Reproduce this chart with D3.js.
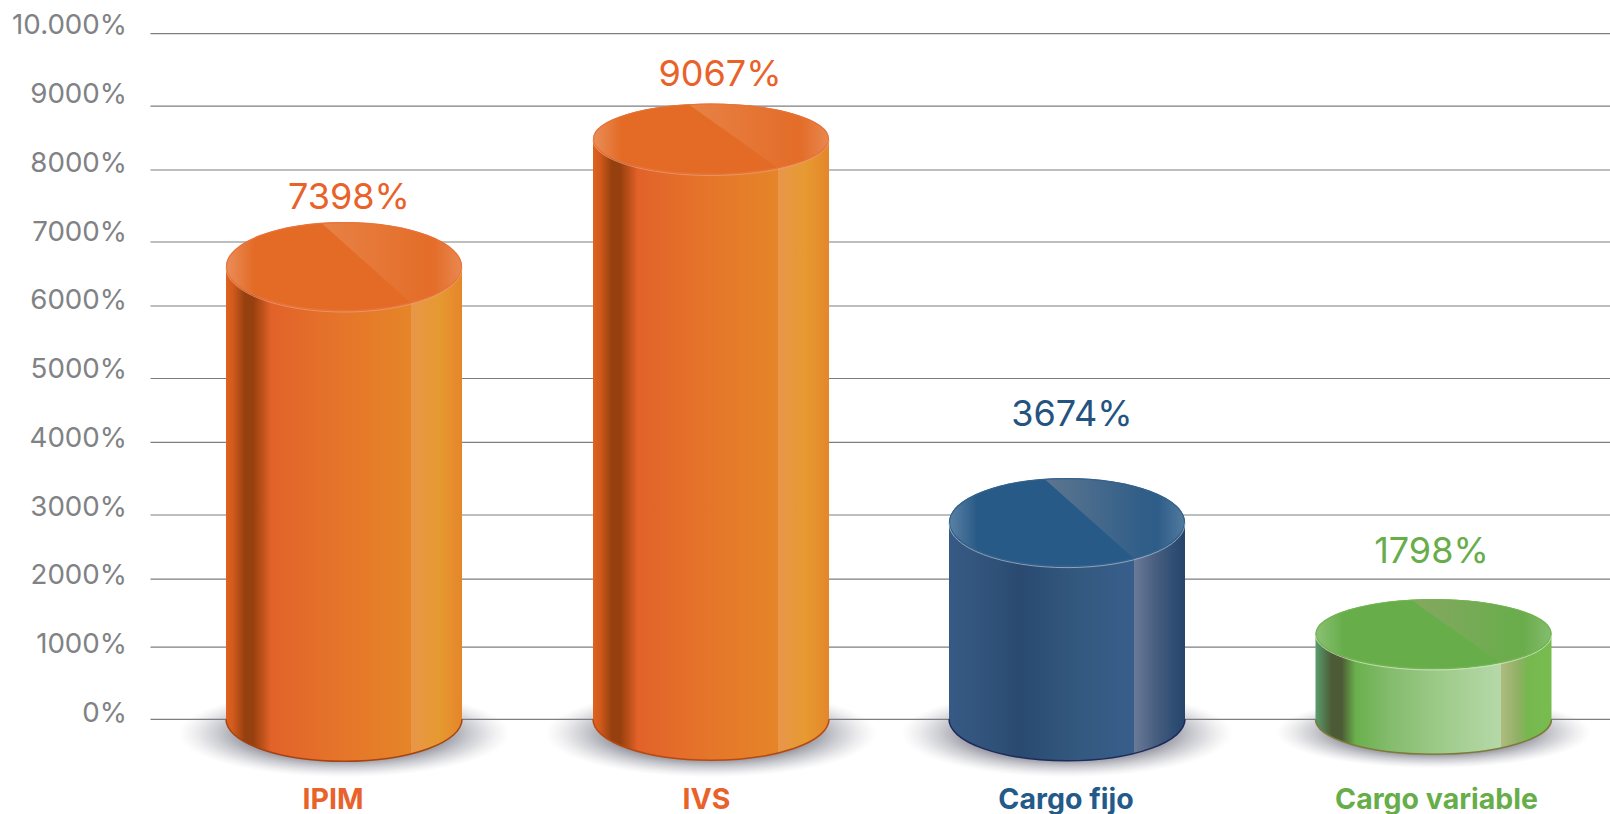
<!DOCTYPE html>
<html>
<head>
<meta charset="utf-8">
<title>Cilindros</title>
<script src="https://cdn.jsdelivr.net/npm/d3@7/dist/d3.min.js"></script>
<style>
  html, body { margin: 0; padding: 0; background: #fff; }
  svg { display: block; }
  text { font-family: Inter, "Noto Sans", sans-serif; }
  .domain, .tick line { display: none; }
</style>
</head>
<body>
<div id="chart"></div>
<script>
// data
const categories = ["IPIM", "IVS", "Cargo fijo", "Cargo variable"];
const valueLabels = [7398, 9067, 3674, 1798];
// the cylinders are not drawn to their labels: height as read on the axis
const drawnHeights = [6604, 8464, 2873, 1244];
const tickLabels = ["0%", "1000%", "2000%", "3000%", "4000%", "5000%", "6000%", "7000%", "8000%", "9000%", "10.000%"];
// gridlines are slightly irregular in the original artwork
const gridLevels = [0, 1054, 2046, 2980, 4040, 4971, 6028, 6962, 8012, 8945, 10000];

const width = 1610;
const height = 814;

// layout, one entry per category
const barCenters = [344, 711, 1067, 1433.5];
const labelCenters = [333, 706.5, 1066, 1436.5];
const valueCenters = [349, 720, 1072, 1431.5];
const valueBaselines = [209, 86, 426, 563];
const topRy = [44.5, 35.5, 44.3, 35];
const bottomRy = [42, 41, 41.5, 35];
const rx = 118;

const orangeSide = [[0, "#e0621f"], [.03, "#d05a1c"], [.08, "#96400f"], [.115, "#96400f"], [.15, "#b94f18"], [.19, "#e2622a"], [.5, "#e5762a"], [.785, "#e58528"],
  [.785, "#e8964a"], [.9, "#e69a30"], [1, "#e5862a"]];

const palettes = [
  { id: "orange", top: "#e36b26", text: "#e8622a", rim: "#ee9a70", edge: "#e8733a", base: "#a8420f", shine: "#f2b48c", shineOp: .32, side: orangeSide },
  { id: "orange2", top: "#e36b26", text: "#e8622a", rim: "#ee9a70", edge: "#e8733a", base: "#b8480f", shine: "#f2b48c", shineOp: .32, side: orangeSide },
  { id: "blue", top: "#285a87", text: "#24537f", rim: "#a3b8cc", edge: "#34628c", base: "#1f2a5c", shine: "#a89c9c", shineOp: .42,
    side: [[0, "#365a85"], [.12, "#33557d"], [.3, "#2a4a70"], [.55, "#33597f"], [.785, "#385f8c"],
           [.785, "#6a7a97"], [.87, "#4a6080"], [.95, "#2f4e74"], [1, "#26446a"]] },
  { id: "green", top: "#67ad4a", text: "#67ad4a", rim: "#cfe6c0", edge: "#72b552", base: "#7f7a3a", shine: "#b0a080", shineOp: .42,
    side: [[0, "#5a9c6c"], [.07, "#4c5a35"], [.11, "#4c5a35"], [.17, "#6ab04c"], [.32, "#85bc6e"], [.6, "#a5cf92"], [.785, "#b5d8a8"],
           [.785, "#b0bc80"], [.86, "#8fb064"], [.9, "#76b84e"], [1, "#78bc50"]] }
];

const y = d3.scaleLinear().domain([0, 10000]).range([719.3, 33.7]);
const tickY = d3.scalePoint().domain(tickLabels).range([712.6, 24.8]);
const x = d3.scaleOrdinal().domain(categories).range(barCenters);
const xLabel = d3.scaleOrdinal().domain(categories).range(labelCenters);
const xValue = d3.scaleOrdinal().domain(categories).range(valueCenters);

const rows = categories.map((name, i) => ({
  name, i,
  value: valueLabels[i],
  drawn: drawnHeights[i],
  ryTop: topRy[i],
  ryBottom: bottomRy[i],
  pal: palettes[i]
}));

const svg = d3.select("#chart").append("svg")
  .attr("width", width)
  .attr("height", height)
  .attr("viewBox", `0 0 ${width} ${height}`);

const defs = svg.append("defs");

const shadow = defs.append("radialGradient").attr("id", "shadow");
shadow.append("stop").attr("offset", "62%").attr("stop-color", "#9a9ba4").attr("stop-opacity", 1);
shadow.append("stop").attr("offset", "82%").attr("stop-color", "#bcbdc4").attr("stop-opacity", .55);
shadow.append("stop").attr("offset", "100%").attr("stop-color", "#d8d8dc").attr("stop-opacity", 0);

palettes.forEach((p) => {
  const g = defs.append("linearGradient").attr("id", `side-${p.id}`);
  p.side.forEach((s) => g.append("stop").attr("offset", s[0]).attr("stop-color", s[1]));

  // soft lighter ends of the lid
  const lid = defs.append("linearGradient").attr("id", `lid-${p.id}`);
  [[0, .24], [.12, 0], [.88, 0], [1, .2]].forEach((s) => {
    lid.append("stop").attr("offset", s[0]).attr("stop-color", "#fff").attr("stop-opacity", s[1]);
  });

  const shine = defs.append("linearGradient").attr("id", `shine-${p.id}`);
  shine.append("stop").attr("offset", "0%").attr("stop-color", p.shine).attr("stop-opacity", p.shineOp);
  shine.append("stop").attr("offset", "70%").attr("stop-color", p.shine).attr("stop-opacity", p.shineOp * .15);
  shine.append("stop").attr("offset", "100%").attr("stop-color", p.shine).attr("stop-opacity", 0);
});

// floor shadows go under the gridlines
svg.append("g").selectAll("ellipse")
  .data(rows)
  .join("ellipse")
  .attr("cx", (d) => x(d.name))
  .attr("cy", (d) => y(0) + (d.ryBottom > 40 ? 14 : 13))
  .attr("rx", (d) => (d.ryBottom > 40 ? 166 : 158))
  .attr("ry", (d) => (d.ryBottom > 40 ? 44 : 36))
  .attr("fill", "url(#shadow)");

svg.append("g").selectAll("line")
  .data(gridLevels)
  .join("line")
  .attr("x1", 150.5)
  .attr("x2", width)
  .attr("y1", (d) => y(d))
  .attr("y2", (d) => y(d))
  .attr("stroke", "#7d7e80")
  .attr("stroke-width", 1.2);

svg.append("g")
  .attr("transform", "translate(127,0)")
  .call(d3.axisLeft(tickY).tickSize(0).tickPadding(0))
  .call((g) => g.selectAll("text")
    .style("font-size", "27.7px")
    .style("font-family", "Inter, sans-serif")
    .attr("fill", "#808285"));

const bars = svg.append("g").selectAll("g")
  .data(rows)
  .join("g");

// body of the cylinder
bars.append("path")
  .attr("d", (d) => {
    const l = x(d.name) - rx;
    const r = x(d.name) + rx;
    const t = y(d.drawn);
    return `M${l},${t} L${l},${y(0)} A${rx},${d.ryBottom} 0 0 0 ${r},${y(0)} L${r},${t} Z`;
  })
  .attr("fill", (d) => `url(#side-${d.pal.id})`);

// dark line under the bottom curve
bars.append("path")
  .attr("d", (d) => {
    const l = x(d.name) - rx;
    const r = x(d.name) + rx;
    return `M${l},${y(0)} A${rx},${d.ryBottom} 0 0 0 ${r},${y(0)}`;
  })
  .attr("fill", "none")
  .attr("stroke", (d) => d.pal.base)
  .attr("stroke-width", 1.5);

// lid
bars.append("clipPath")
  .attr("id", (d) => `clip-${d.i}`)
  .append("ellipse")
  .attr("cx", (d) => x(d.name))
  .attr("cy", (d) => y(d.drawn))
  .attr("rx", rx)
  .attr("ry", (d) => d.ryTop);

bars.append("ellipse")
  .attr("cx", (d) => x(d.name))
  .attr("cy", (d) => y(d.drawn))
  .attr("rx", rx)
  .attr("ry", (d) => d.ryTop)
  .attr("fill", (d) => d.pal.top);

bars.append("ellipse")
  .attr("cx", (d) => x(d.name))
  .attr("cy", (d) => y(d.drawn))
  .attr("rx", rx)
  .attr("ry", (d) => d.ryTop)
  .attr("fill", (d) => `url(#lid-${d.pal.id})`);

// diagonal reflection on the lid
bars.append("path")
  .attr("clip-path", (d) => `url(#clip-${d.i})`)
  .attr("d", (d) => {
    const l = x(d.name) - rx;
    const t = y(d.drawn);
    const w = rx * 2;
    const top = t - d.ryTop;
    const bottom = t + d.ryTop;
    return `M${l + w * .4},${top} L${l + w * .78},${bottom - d.ryTop * .2} L${l + w},${bottom} L${l + w},${top} Z`;
  })
  .attr("fill", (d) => `url(#shine-${d.pal.id})`);

// thin rim of the lid
bars.append("ellipse")
  .attr("cx", (d) => x(d.name))
  .attr("cy", (d) => y(d.drawn))
  .attr("rx", rx - .5)
  .attr("ry", (d) => d.ryTop - .5)
  .attr("fill", "none")
  .attr("stroke", (d) => d.pal.edge)
  .attr("stroke-width", 1.2);

bars.append("path")
  .attr("d", (d) => {
    const c = x(d.name);
    const t = y(d.drawn);
    return `M${c - rx},${t + 1} A${rx},${d.ryTop} 0 0 0 ${c + rx},${t + 1}`;
  })
  .attr("fill", "none")
  .attr("stroke", (d) => d.pal.rim)
  .attr("stroke-opacity", .8)
  .attr("stroke-width", 1);

// value above each cylinder
svg.append("g").selectAll("text")
  .data(rows)
  .join("text")
  .attr("x", (d) => xValue(d.name))
  .attr("y", (d) => valueBaselines[d.i])
  .attr("text-anchor", "middle")
  .style("font-size", "36px")
  .attr("fill", (d) => d.pal.text)
  .text((d) => `${d.value}%`);

// category names
svg.append("g").selectAll("text")
  .data(rows)
  .join("text")
  .attr("x", (d) => xLabel(d.name))
  .attr("y", 808.5)
  .attr("text-anchor", "middle")
  .style("font-size", "28.5px")
  .style("font-weight", 700)
  .attr("fill", (d) => (d.pal.id === "blue" ? "#245a8a" : d.pal.text))
  .text((d) => d.name);
</script>
</body>
</html>
